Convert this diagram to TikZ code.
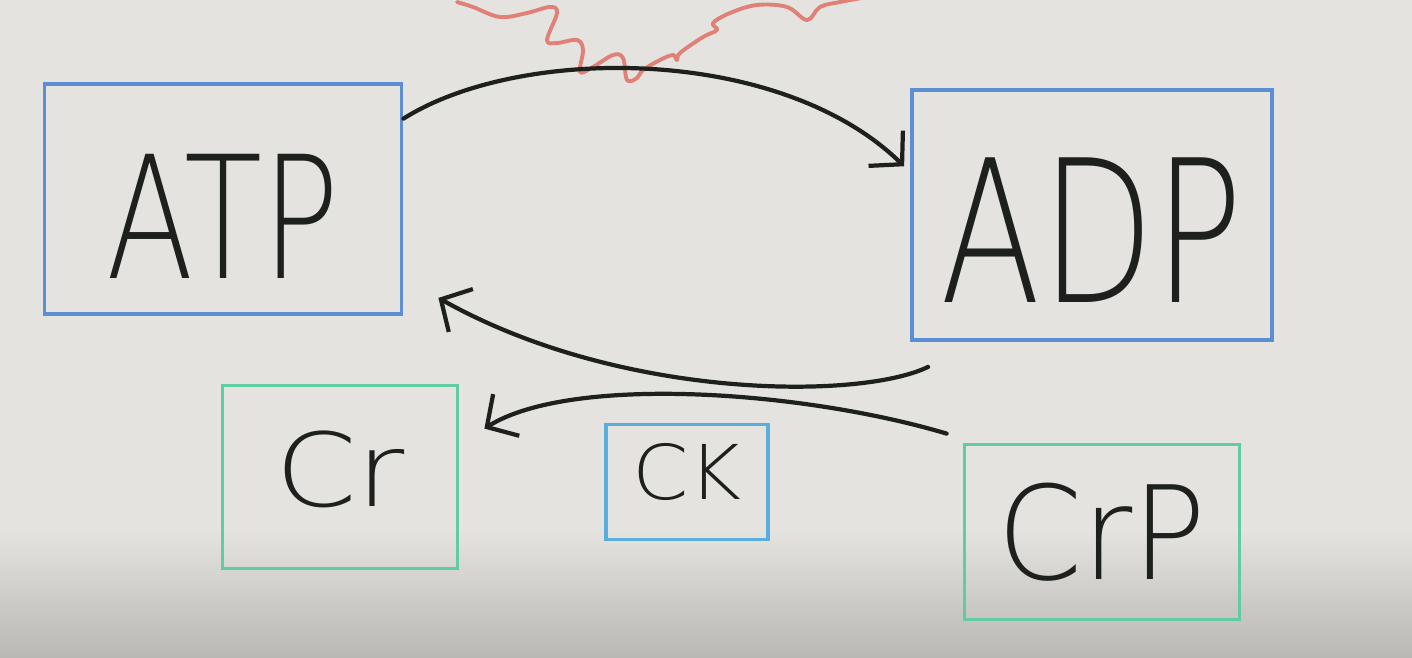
\documentclass[tikz,border=0pt]{standalone}
\usepackage{fontspec}
\setmainfont{DejaVu Sans}
\newfontfamily\markerfont{DejaVu Sans ExtraLight}
\usepackage{graphicx}
\usepackage{xcolor}
\usepackage{tikz}
\usetikzlibrary{arrows.meta, calc}
\definecolor{boardgrey}{RGB}{229,227,223}
\definecolor{boardshade}{RGB}{186,184,181}
\definecolor{markerblue}{RGB}{92,142,212}
\definecolor{markercyan}{RGB}{88,174,222}
\definecolor{markergreen}{RGB}{96,204,160}
\definecolor{markerred}{RGB}{224,128,118}
\definecolor{markerblack}{RGB}{30,32,30}
% size, horizontal scale, vertical shift, text
\newcommand{\handtext}[4]{{\markerfont\fontsize{#1}{#1}\selectfont\raisebox{#3}[\height][\depth]{\scalebox{#2}[1]{#4}}}}

\begin{document}
\begin{tikzpicture}[
    x=0.02cm, y=-0.02cm,
    markerbox/.style={draw, line width=2.2pt, text=markerblack, inner sep=0pt},
    reaction/.style={draw=markerblack, line width=2.4pt, line cap=round,
        -{Straight Barb[length=13pt, width=28pt]}}
]
% whiteboard
\fill[boardgrey] (0,0) rectangle (1412,658);
\shade[top color=boardgrey, bottom color=boardshade] (0,530) rectangle (1412,658);
\useasboundingbox (0,0) rectangle (1412,658);

% energy released
\draw[markerred, line width=2.2pt, line cap=round, line join=round]
    plot[smooth, tension=0.6] coordinates {
    (457,2) (473,7) (500,17) (527,13) (550,7) (557,13) (547,40) (557,43)
    (577,40) (583,50) (580,72) (593,67) (613,55) (623,58) (627,80) (637,78)
    (643,70) (660,60) (673,55) (677,60) (680,53) (703,37) (717,30) (713,23)
    (730,13) (757,5) (787,7) (807,20) (820,7) (840,2) (873,-4)};

% nucleotides
\node[markerbox, draw=markerblue, minimum width=7.14cm, minimum height=4.6cm]
    (ATP) at (223,199) {\handtext{97pt}{0.75}{-10pt}{ATP}};
\node[markerbox, draw=markerblue, minimum width=7.2cm, minimum height=5cm]
    (ADP) at (1092,215) {\handtext{113pt}{0.74}{-8.5pt}{ADP}};

% creatine side
\node[markerbox, draw=markergreen, minimum width=4.7cm, minimum height=3.66cm]
    (Cr) at (340,477) {\handtext{58pt}{1.15}{4.5pt}{Cr}};
\node[markerbox, draw=markercyan, minimum width=3.24cm, minimum height=2.3cm]
    (CK) at (687,482) {\handtext{43pt}{1.07}{5.5pt}{CK}};
\node[markerbox, draw=markergreen, minimum width=5.5cm, minimum height=3.5cm]
    (CrP) at (1102,532) {\handtext{74pt}{0.94}{0pt}{CrP}};

% arrows
\draw[reaction] (ATP.24) .. controls (520,45) and (780,45) .. ($(ADP.165)+(-6,0)$);
\draw[reaction] ($(ADP.south west)+(18,25)$) .. controls (860,400) and (620,400) .. ($(ATP.south east)+(35,-18)$);
\draw[reaction] ($(CrP.north west)+(-16,-9)$) .. controls (800,390) and (570,375) .. ($(Cr.north east)+(25,45)$);
\end{tikzpicture}
\end{document}
